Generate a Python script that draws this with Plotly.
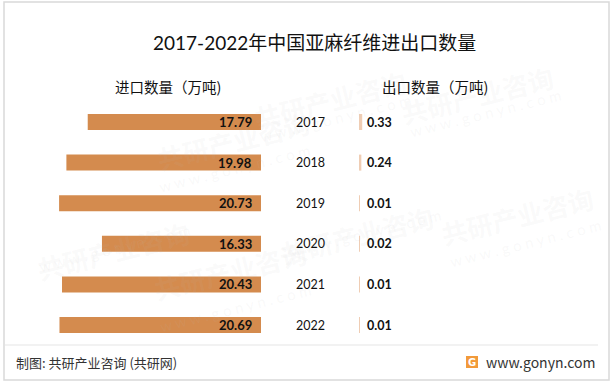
import plotly.graph_objects as go

years = ["2017", "2018", "2019", "2020", "2021", "2022"]
imports = [17.79, 19.98, 20.73, 16.33, 20.43, 20.69]
exports = [0.33, 0.24, 0.01, 0.02, 0.01, 0.01]

W, H = 613, 383
PX_PER_UNIT = 9.74
pos = list(range(len(years)))

IMP_COLOR = "#D48B4E"
EXP_COLOR = "#EFCDB4"
NUM_FONT = "Lato, 'Noto Sans CJK SC', sans-serif"
CJK_FONT = "'Noto Sans CJK SC', sans-serif"

fig = go.Figure()
fig.add_trace(go.Bar(
    y=pos, x=imports, orientation="h", xaxis="x", yaxis="y",
    marker=dict(color=IMP_COLOR, line=dict(width=0)), width=0.394,
    hoverinfo="skip", showlegend=False,
))
fig.add_trace(go.Bar(
    y=pos, x=exports, orientation="h", xaxis="x2", yaxis="y",
    marker=dict(color=EXP_COLOR, line=dict(width=0)), width=0.394,
    hoverinfo="skip", showlegend=False,
))

ann = []
# Watermarks (very faint)
wm = [(150, 140), (330, 60), (560, 55), (440, 235), (230, 310), (30, 250), (600, 215)]
for (wx, wy) in wm:
    ann.append(dict(x=wx / W, y=1 - wy / H, xref="paper", yref="paper", text="<b>共研产业咨询</b>",
                    showarrow=False, textangle=-14, font=dict(family=CJK_FONT, size=26, color="rgba(190,190,190,0.07)")))
    ann.append(dict(x=(wx + 5) / W, y=1 - (wy + 28) / H, xref="paper", yref="paper",
                    text="w w w . g o n y n . c o m", showarrow=False, textangle=-14,
                    font=dict(family=NUM_FONT, size=15, color="rgba(190,190,190,0.09)")))

for i, (yr, a, b) in enumerate(zip(years, imports, exports)):
    ann.append(dict(x=0, y=i, xref="x", yref="y", text=f"<b>{a:.2f}</b>",
                    xanchor="right", yanchor="middle", xshift=-7, showarrow=False,
                    font=dict(family=NUM_FONT, size=13, color="#111111")))
    ann.append(dict(x=0, y=i, xref="x2", yref="y", text=f"<b>{b:.2f}</b>",
                    xanchor="left", yanchor="middle", xshift=6, showarrow=False,
                    font=dict(family=NUM_FONT, size=12.5, color="#111111")))
    ann.append(dict(x=310 / W, y=i, xref="paper", yref="y", text=yr,
                    xanchor="center", yanchor="middle", showarrow=False,
                    font=dict(family=NUM_FONT, size=12.5, color="#111111")))

ann += [
    dict(x=314 / W, y=1 - 42 / H, xref="paper", yref="paper", text="2017-2022年中国亚麻纤维进出口数量",
         showarrow=False, xanchor="center", yanchor="middle",
         font=dict(family=NUM_FONT, size=19, color="#111111")),
    dict(x=168 / W, y=1 - 86 / H, xref="paper", yref="paper", text="进口数量（万吨)",
         showarrow=False, xanchor="center", yanchor="middle",
         font=dict(family=CJK_FONT, size=14.5, color="#111111")),
    dict(x=435 / W, y=1 - 86 / H, xref="paper", yref="paper", text="出口数量（万吨)",
         showarrow=False, xanchor="center", yanchor="middle",
         font=dict(family=CJK_FONT, size=14.5, color="#111111")),
    dict(x=14 / W, y=1 - 362 / H, xref="paper", yref="paper", text="制图: 共研产业咨询 (共研网)",
         showarrow=False, xanchor="left", yanchor="middle",
         font=dict(family=CJK_FONT, size=13, color="#333333")),
    dict(x=597 / W, y=1 - 362 / H, xref="paper", yref="paper", text="www.gonyn.com",
         showarrow=False, xanchor="right", yanchor="middle",
         font=dict(family=CJK_FONT, size=14, color="#333333")),
    dict(x=472 / W, y=1 - 362 / H, xref="paper", yref="paper", text="<b>G</b>",
         showarrow=False, xanchor="center", yanchor="middle",
         font=dict(family="'DejaVu Sans', sans-serif", size=10, color="#ffffff")),
]

shapes = [
    dict(type="rect", xref="paper", yref="paper", x0=4 / W, x1=609 / W, y0=1 - 380 / H, y1=1 - 2 / H,
         line=dict(color="#D9D9D9", width=1.5), fillcolor="rgba(0,0,0,0)", layer="below"),
    dict(type="line", xref="paper", yref="paper", x0=5 / W, x1=598 / W, y0=1 - 345 / H, y1=1 - 345 / H,
         line=dict(color="#E6E6E6", width=1.2)),
    dict(type="rect", xref="paper", yref="paper", x0=466 / W, x1=478 / W, y0=1 - 368 / H, y1=1 - 356 / H,
         line=dict(width=0), fillcolor="#F29A3A"),
]

fig.update_layout(
    width=W, height=H,
    margin=dict(l=0, r=0, t=0, b=0),
    paper_bgcolor="#FFFFFF", plot_bgcolor="rgba(0,0,0,0)",
    barmode="overlay",
    xaxis=dict(domain=[0, 261 / W], range=[261 / PX_PER_UNIT, 0], visible=False, fixedrange=True),
    xaxis2=dict(domain=[359 / W, 1], range=[0, 254 / PX_PER_UNIT], visible=False, anchor="y", fixedrange=True),
    yaxis=dict(domain=[0, 1], range=[(H - 122) / 40.6, -122 / 40.6], visible=False, fixedrange=True),
    annotations=ann,
    shapes=shapes,
)

fig.write_html(
    "out.html",
    config={"displayModeBar": False},
    post_script="document.body.style.margin='0';document.body.style.overflow='hidden';",
)
